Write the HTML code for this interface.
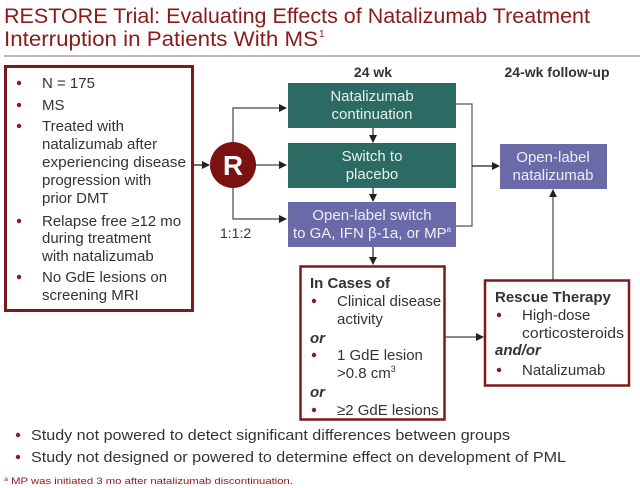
<!DOCTYPE html>
<html><head><meta charset="utf-8"><style>
html,body{margin:0;padding:0;background:#fff;}
svg{display:block;}
text{font-family:"Liberation Sans",sans-serif;}
</style></head><body>
<svg width="640" height="488" viewBox="0 0 640 488" xmlns="http://www.w3.org/2000/svg">
<defs>
<marker id="a" markerWidth="8" markerHeight="8" refX="7" refY="4" orient="auto" markerUnits="userSpaceOnUse">
<path d="M0,0 L8,4 L0,8 z" fill="#222"/></marker>
</defs>
<!-- title -->
<text x="4" y="23" font-size="21" fill="#8b1a1a" textLength="586" lengthAdjust="spacingAndGlyphs">RESTORE Trial: Evaluating Effects of Natalizumab Treatment</text>
<text x="4" y="46" font-size="21" fill="#8b1a1a" textLength="314" lengthAdjust="spacingAndGlyphs">Interruption in Patients With MS</text>
<text x="319" y="37" font-size="10" fill="#8b1a1a">1</text>
<line x1="4" y1="56" x2="640" y2="56" stroke="#b39a9a" stroke-width="1.5"/>

<!-- left box -->
<rect x="5.5" y="66.5" width="187" height="244" fill="#fff" stroke="#7a1a1a" stroke-width="3"/>
<g font-size="15" fill="#333">
<text x="42" y="88">N = 175</text>
<text x="42" y="110">MS</text>
<text x="42" y="131">Treated with</text>
<text x="42" y="149">natalizumab after</text>
<text x="42" y="167" textLength="144" lengthAdjust="spacingAndGlyphs">experiencing disease</text>
<text x="42" y="185">progression with</text>
<text x="42" y="203">prior DMT</text>
<text x="42" y="226">Relapse free ≥12 mo</text>
<text x="42" y="243">during treatment</text>
<text x="42" y="261">with natalizumab</text>
<text x="42" y="282">No GdE lesions on</text>
<text x="42" y="300">screening MRI</text>
</g>
<g fill="#8b1a1a">
<circle cx="19" cy="83" r="2.2"/><circle cx="19" cy="105" r="2.2"/><circle cx="19" cy="126" r="2.2"/>
<circle cx="19" cy="221" r="2.2"/><circle cx="19" cy="277" r="2.2"/>
</g>

<!-- headers -->
<text x="373" y="77" font-size="14" font-weight="bold" fill="#333" text-anchor="middle">24 wk</text>
<text x="557" y="77" font-size="14" font-weight="bold" fill="#333" text-anchor="middle">24-wk follow-up</text>

<!-- R -->
<line x1="193" y1="165" x2="209" y2="165" stroke="#222" stroke-width="1.3" marker-end="url(#a)"/>
<circle cx="233" cy="165" r="23" fill="#7a1212"/>
<text x="233" y="175" font-size="28" font-weight="bold" fill="#fff" text-anchor="middle">R</text>
<path d="M233,142 V108 H286" fill="none" stroke="#444" stroke-width="1.2" marker-end="url(#a)"/>
<line x1="256" y1="165" x2="286" y2="165" stroke="#444" stroke-width="1.2" marker-end="url(#a)"/>
<path d="M233,188 V219 H286" fill="none" stroke="#444" stroke-width="1.2" marker-end="url(#a)"/>
<text x="220" y="238" font-size="14" fill="#333">1:1:2</text>

<!-- boxes -->
<rect x="288" y="83" width="168" height="45" fill="#2b6b63"/>
<text x="372" y="101" font-size="15" fill="#e8f0ee" text-anchor="middle">Natalizumab</text>
<text x="372" y="119" font-size="15" fill="#e8f0ee" text-anchor="middle">continuation</text>
<rect x="288" y="143" width="168" height="45" fill="#2b6b63"/>
<text x="372" y="161" font-size="15" fill="#e8f0ee" text-anchor="middle">Switch to</text>
<text x="372" y="179" font-size="15" fill="#e8f0ee" text-anchor="middle">placebo</text>
<rect x="288" y="202" width="168" height="45" fill="#6b6aa8"/>
<text x="372" y="220" font-size="15" fill="#eeeef8" text-anchor="middle">Open-label switch</text>
<text x="372" y="238" font-size="15" fill="#eeeef8" text-anchor="middle">to GA, IFN β-1a, or MP<tspan font-size="8" dy="-6">a</tspan></text>

<line x1="373" y1="128" x2="373" y2="142" stroke="#222" stroke-width="1.2" marker-end="url(#a)"/>
<line x1="373" y1="188" x2="373" y2="201" stroke="#222" stroke-width="1.2" marker-end="url(#a)"/>
<path d="M456,104 H472 V226 H456" fill="none" stroke="#555" stroke-width="1.2"/>
<line x1="472" y1="166" x2="499" y2="166" stroke="#222" stroke-width="1.2" marker-end="url(#a)"/>

<rect x="500" y="144" width="107" height="45" fill="#6b6aa8"/>
<text x="553" y="162" font-size="15" fill="#eeeef8" text-anchor="middle">Open-label</text>
<text x="553" y="180" font-size="15" fill="#eeeef8" text-anchor="middle">natalizumab</text>

<line x1="373" y1="247" x2="373" y2="264" stroke="#222" stroke-width="1.2" marker-end="url(#a)"/>

<!-- In cases -->
<rect x="300.5" y="266.5" width="144" height="153" fill="#fff" stroke="#7a1a1a" stroke-width="2.5"/>
<g font-size="15" fill="#333">
<text x="310" y="288" font-weight="bold">In Cases of</text>
<text x="337" y="306">Clinical disease</text>
<text x="337" y="324">activity</text>
<text x="310" y="343" font-style="italic" font-weight="bold">or</text>
<text x="337" y="360">1 GdE lesion</text>
<text x="337" y="378">&gt;0.8 cm<tspan font-size="9" dy="-6">3</tspan></text>
<text x="310" y="397" font-style="italic" font-weight="bold">or</text>
<text x="337" y="415">≥2 GdE lesions</text>
</g>
<g fill="#8b1a1a"><circle cx="314" cy="301" r="2.2"/><circle cx="314" cy="355" r="2.2"/><circle cx="314" cy="410" r="2.2"/></g>

<line x1="445" y1="337" x2="483" y2="337" stroke="#444" stroke-width="1.2" marker-end="url(#a)"/>
<line x1="553" y1="280" x2="553" y2="190" stroke="#444" stroke-width="1.2" marker-end="url(#a)"/>

<!-- rescue -->
<rect x="485" y="280.5" width="144" height="105" fill="#fff" stroke="#7a1a1a" stroke-width="2.5"/>
<g font-size="15" fill="#333">
<text x="495" y="302" font-weight="bold">Rescue Therapy</text>
<text x="522" y="320">High-dose</text>
<text x="522" y="338" textLength="102" lengthAdjust="spacingAndGlyphs">corticosteroids</text>
<text x="495" y="355" font-style="italic" font-weight="bold">and/or</text>
<text x="522" y="375">Natalizumab</text>
</g>
<g fill="#8b1a1a"><circle cx="499" cy="315" r="2.2"/><circle cx="499" cy="370" r="2.2"/></g>

<!-- bottom bullets -->
<g font-size="15" fill="#333">
<text x="31" y="440" textLength="479" lengthAdjust="spacingAndGlyphs">Study not powered to detect significant differences between groups</text>
<text x="31" y="462" textLength="535" lengthAdjust="spacingAndGlyphs">Study not designed or powered to determine effect on development of PML</text>
</g>
<g fill="#8b1a1a"><circle cx="18" cy="435" r="2.2"/><circle cx="18" cy="457" r="2.2"/></g>
<text x="4" y="484" font-size="9.5" fill="#8b1a1a" textLength="289" lengthAdjust="spacingAndGlyphs"><tspan font-size="6" dy="-3">a</tspan><tspan dy="3"> MP was initiated 3 mo after natalizumab discontinuation.</tspan></text>
</svg>
</body></html>
